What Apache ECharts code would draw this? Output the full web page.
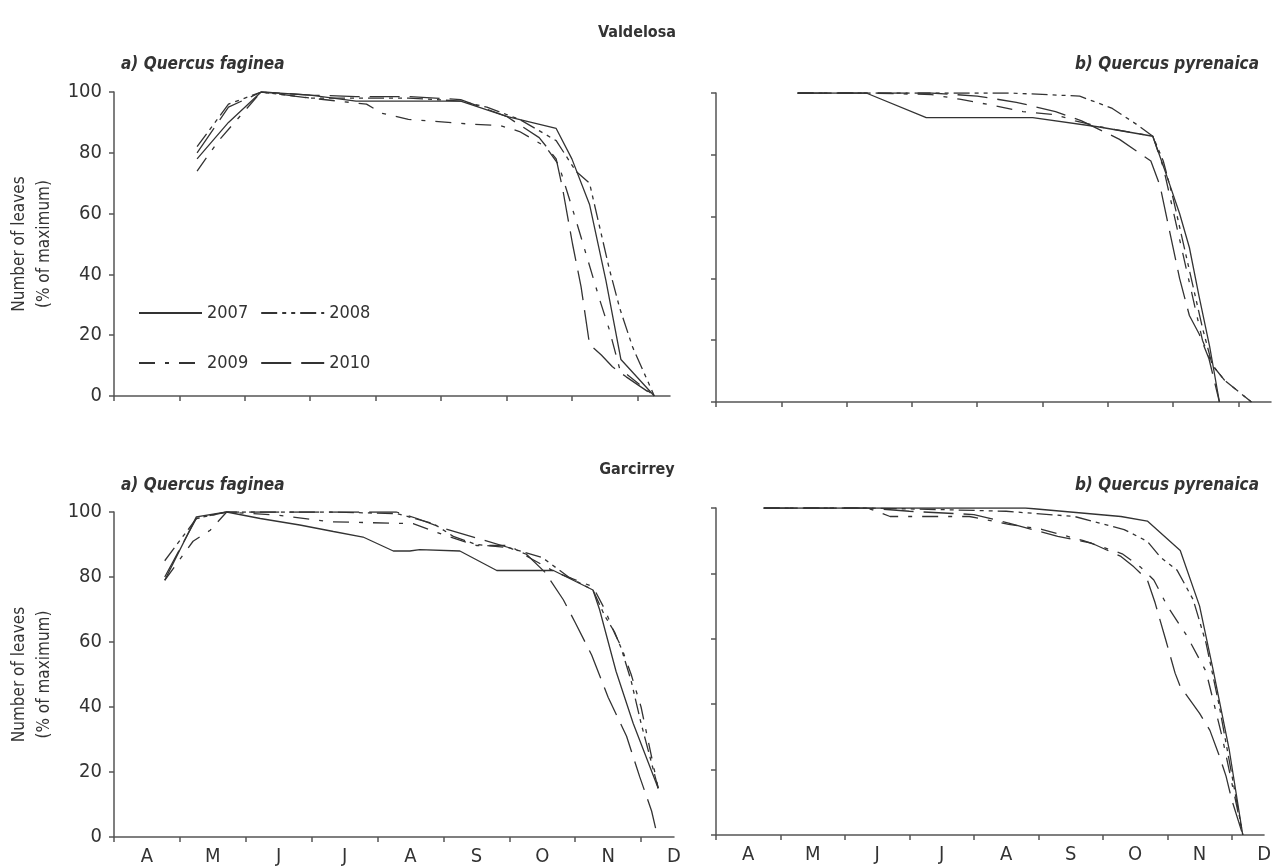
<!DOCTYPE html>
<html>
<head>
<meta charset="utf-8">
<script src="https://cdn.jsdelivr.net/npm/echarts@6/dist/echarts.min.js"></script>
<style>
  html, body { margin: 0; background: #fff; }
  #chart { width: 1274px; height: 867px; }
</style>
</head>
<body>
<div id="chart"></div>
<script>
// x = months since 1 April (0 = A ... 8 = D), y = leaves as % of maximum
const months = ['A', 'M', 'J', 'J', 'A', 'S', 'O', 'N', 'D'];
const monthTicks = [0, 1, 2, 3, 4, 5, 6, 7, 8];
const monthLabelAt = [0.5, 1.5, 2.5, 3.5, 4.5, 5.5, 6.5, 7.5, 8.5];
const years = ['2007', '2008', '2009', '2010'];

// Valdelosa - a) Quercus faginea
const valFag2007 = [[1.27, 78], [1.75, 90], [2.25, 100], [3, 99], [3.7, 97], [4.5, 97], [5.3, 97], [6, 92], [6.76, 88], [7.0, 78], [7.27, 63], [7.52, 38], [7.75, 12], [8.26, 0]];
const valFag2008 = [[1.27, 82], [1.75, 96], [2.25, 100], [3, 98], [3.7, 98], [4.5, 98], [5.3, 97], [5.7, 95], [6.2, 91], [6.76, 84], [7.06, 74], [7.27, 70], [7.42, 56], [7.57, 42], [7.73, 29], [7.93, 16], [8.26, 0]];
const valFag2009 = [[1.27, 74], [1.6, 84], [2.25, 100], [3, 98], [3.86, 96], [4.1, 93], [4.5, 91], [5.4, 89.5], [5.9, 89], [6.2, 87], [6.6, 82], [6.8, 76], [7.06, 58], [7.24, 45], [7.42, 32], [7.57, 22], [7.73, 9], [8.26, 0]];
const valFag2010 = [[1.27, 80], [1.75, 95], [2.25, 100], [3, 99], [3.7, 98.5], [4.5, 98.5], [5.3, 97.5], [6, 92], [6.5, 85], [6.76, 78], [6.86, 68], [7.01, 50], [7.14, 36], [7.27, 17], [7.45, 13.5], [7.62, 9.6], [7.83, 6.3], [8.26, 0]];

// Valdelosa - b) Quercus pyrenaica
const valPyr2007 = [[1.25, 100], [2.3, 100], [3.22, 92], [4.85, 92], [5.87, 89], [6.69, 86], [6.89, 74], [7.1, 61], [7.25, 50], [7.4, 34], [7.56, 18], [7.71, 0]];
const valPyr2008 = [[1.25, 100], [2.3, 100], [3.5, 100], [4.5, 100], [5.57, 99], [6.07, 95], [6.43, 90], [6.69, 86], [6.85, 78], [7.0, 66], [7.15, 52], [7.3, 38], [7.45, 24], [7.6, 12], [7.79, 7], [8.2, 0]];
const valPyr2009 = [[1.25, 100], [2.3, 100], [3.3, 99.5], [3.73, 98], [4.24, 96], [4.7, 94], [5.2, 93], [5.5, 91], [5.9, 89], [6.69, 86], [6.85, 76], [7.0, 62], [7.15, 48], [7.3, 34], [7.45, 20], [7.6, 12], [7.79, 7], [8.2, 0]];
const valPyr2010 = [[1.25, 100], [2.3, 100], [3.3, 100], [4.0, 99], [4.6, 97], [5.2, 94], [5.6, 91], [6.18, 85], [6.66, 78], [6.8, 70], [6.95, 55], [7.1, 40], [7.25, 28], [7.4, 22], [7.55, 14], [7.71, 0]];

// Garcirrey - a) Quercus faginea
const garFag2007 = [[0.77, 79], [1.25, 98.5], [1.71, 100], [2.22, 98], [2.82, 96], [3.33, 94], [3.78, 92.3], [4.24, 88], [4.49, 88], [4.64, 88.4], [5.25, 88], [5.81, 82], [6.67, 82], [7.27, 76], [7.37, 70], [7.62, 51], [7.88, 35], [8.26, 15]];
const garFag2008 = [[0.77, 85], [1.25, 98], [1.71, 100], [2.5, 100], [3.3, 100], [4.3, 99.5], [4.85, 96.4], [5.15, 92.5], [5.5, 90], [6.0, 89], [6.5, 86], [6.9, 80], [7.27, 76], [7.45, 68], [7.6, 63], [7.7, 58], [7.85, 48], [8.0, 35], [8.26, 15]];
const garFag2009 = [[0.77, 79], [1.2, 91], [1.46, 94.4], [1.71, 100], [2.5, 99], [3.28, 97], [4.54, 96.4], [5.0, 93], [5.5, 89.7], [6.0, 89.7], [6.3, 86], [6.7, 81.5], [7.27, 77], [7.45, 70], [7.6, 62.6], [7.7, 58.5], [7.85, 50], [8.0, 40], [8.26, 15]];
const garFag2010 = [[0.77, 80], [1.25, 98], [1.71, 100], [3.0, 100], [4.29, 100], [4.6, 98], [5.0, 95], [5.5, 92], [6.0, 89], [6.26, 87], [6.54, 81.5], [6.82, 73], [7.0, 66], [7.25, 56], [7.5, 43], [7.78, 31], [7.98, 18.5], [8.16, 8], [8.24, 1]];

// Garcirrey - b) Quercus pyrenaica
const garPyr2007 = [[0.74, 100], [4.8, 100], [6.28, 97.4], [6.69, 96], [7.2, 87], [7.5, 70], [7.71, 50.5], [7.96, 26], [8.17, 0]];
const garPyr2008 = [[0.74, 100], [2.35, 100], [3.5, 99.5], [4.5, 99], [5.56, 97.4], [6.33, 93.4], [6.69, 89.8], [6.89, 85], [7.15, 81], [7.4, 72], [7.6, 58.7], [7.8, 40], [8.17, 0]];
const garPyr2009 = [[0.74, 100], [2.35, 100], [2.7, 97.4], [3.93, 97.4], [4.54, 95], [5.05, 93.5], [5.7, 90], [6.3, 86], [6.58, 82], [6.79, 78], [7.0, 70], [7.3, 61], [7.6, 50], [7.85, 30], [8.17, 0]];
const garPyr2010 = [[0.74, 100], [2.35, 100], [3.0, 99], [4.0, 98], [4.54, 95.4], [5.3, 91.3], [5.82, 89.3], [6.28, 85.2], [6.48, 82], [6.69, 78], [6.81, 71], [6.97, 60], [7.12, 49.5], [7.2, 45.4], [7.5, 37.2], [7.66, 32], [7.81, 24], [7.91, 18], [8.0, 10.7], [8.17, 0]];

const panels = [
    [valFag2007, valFag2008, valFag2009, valFag2010],
    [valPyr2007, valPyr2008, valPyr2009, valPyr2010],
    [garFag2007, garFag2008, garFag2009, garFag2010],
    [garPyr2007, garPyr2008, garPyr2009, garPyr2010]
];

const font = "'Liberation Sans Narrow', 'DejaVu Sans Condensed', sans-serif";
const ink = '#333';
const axisInk = '#555';
const dashes = ['solid', [16, 5, 4, 5, 4, 5], [16, 10, 4, 10], [30, 10]];

const chart = echarts.init(document.getElementById('chart'));

const grids = [
    { left: 114, top: 92, width: 556, height: 304 },
    { left: 716, top: 93, width: 555, height: 309 },
    { left: 114, top: 512, width: 560, height: 325 },
    { left: 716, top: 508, width: 555, height: 327 }
];

const xAxes = grids.map((g, i) => ({
    type: 'value',
    gridIndex: i,
    min: 0,
    max: 8.5,
    axisLine: { show: true, onZero: false, lineStyle: { color: axisInk, width: 1.5 } },
    axisTick: { show: true, length: 5, customValues: monthTicks, lineStyle: { color: axisInk, width: 1.5 } },
    axisLabel: {
        show: i >= 2,
        customValues: monthLabelAt,
        formatter: v => months[Math.round(v - 0.5)] || '',
        color: ink,
        fontSize: 20,
        fontFamily: font,
        margin: 10
    },
    splitLine: { show: false }
}));

const yAxes = grids.map((g, i) => ({
    type: 'value',
    gridIndex: i,
    min: 0,
    max: 100,
    interval: 20,
    name: i % 2 === 0 ? 'Number of leaves\n(% of maximum)' : '',
    nameLocation: 'middle',
    nameRotate: 90,
    nameGap: 57,
    nameTextStyle: { color: ink, fontSize: 17, fontFamily: font, lineHeight: 25 },
    axisLine: { show: true, lineStyle: { color: axisInk, width: 1.5 } },
    axisTick: { show: true, length: 5, lineStyle: { color: axisInk, width: 1.5 } },
    axisLabel: { show: i % 2 === 0, color: ink, fontSize: 20, fontFamily: font, margin: 12 },
    splitLine: { show: false }
}));

const series = [];
panels.forEach((lines, i) => {
    lines.forEach((data, j) => {
        series.push({
            type: 'line',
            name: years[j],
            xAxisIndex: i,
            yAxisIndex: i,
            data: data,
            symbol: 'none',
            itemStyle: { color: ink },
            lineStyle: { color: ink, width: 1.3, type: dashes[j] }
        });
    });
});

const titleStyle = { color: ink, fontSize: 16, fontWeight: 'bold', fontFamily: font };
const subStyle = { color: ink, fontSize: 17, fontStyle: 'italic', fontFamily: font };
const legendBase = {
    left: 133, itemWidth: 63, itemHeight: 14, itemGap: 12,
    itemStyle: { color: 'transparent', borderWidth: 0 },
    textStyle: { color: ink, fontSize: 18, fontFamily: font }
};

const option = {
    animation: false,
    backgroundColor: '#fff',
    title: [
        { text: 'Valdelosa', left: 'center', top: 20, textStyle: titleStyle },
        { text: 'a) Quercus faginea', left: 116, top: 51, textStyle: subStyle },
        { text: 'b) Quercus pyrenaica', right: 10, top: 51, textStyle: subStyle },
        { text: 'Garcirrey', left: 'center', top: 457, textStyle: titleStyle },
        { text: 'a) Quercus faginea', left: 116, top: 472, textStyle: subStyle },
        { text: 'b) Quercus pyrenaica', right: 10, top: 472, textStyle: subStyle }
    ],
    legend: [
        Object.assign({ data: ['2007', '2008'], top: 299 }, legendBase),
        Object.assign({ data: ['2009', '2010'], top: 349 }, legendBase)
    ],
    grid: grids,
    xAxis: xAxes,
    yAxis: yAxes,
    series: series
};

chart.setOption(option);
window.addEventListener('resize', () => chart.resize());
</script>
</body>
</html>
